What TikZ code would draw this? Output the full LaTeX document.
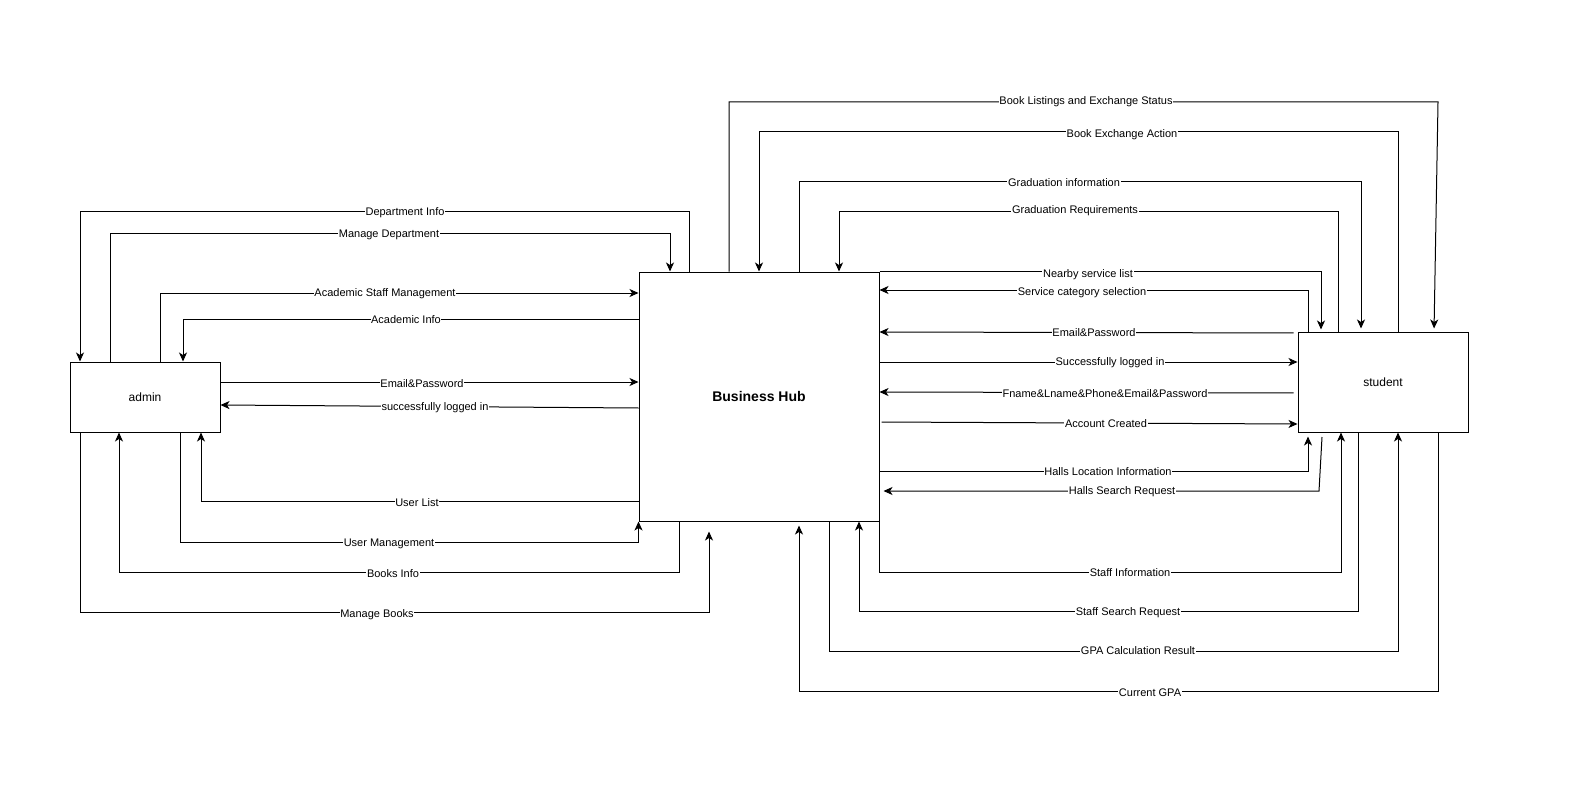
\documentclass[tikz,border=0pt]{standalone}
\usepackage{fontspec}
\setmainfont{Liberation Sans}
\usetikzlibrary{arrows.meta}
\begin{document}
\begin{tikzpicture}[x=1pt,y=-1pt,
  flow/.style={draw, line width=1pt, -{Stealth[length=9pt,width=8pt,inset=2.5pt]}},
  lbl/.style={fill=white, inner sep=0.6pt, font=\fontsize{11}{12}\selectfont},
  box/.style={draw, line width=1pt, inner sep=0pt, font=\fontsize{12}{14}\selectfont}]
\fill[white] (0,0) rectangle (1570,802);
\useasboundingbox (0,0) rectangle (1570,802);

% entities and the central process
\node[box, minimum width=150pt, minimum height=70pt] (admin) at (145,397) {admin};
\node[box, minimum width=240pt, minimum height=249pt,
      font=\bfseries\fontsize{14}{16}\selectfont] (hub) at (759,396.5) {Business Hub};
\node[box, minimum width=170pt, minimum height=100pt] (student) at (1383,382) {student};

% ---- admin <-> hub ----
\draw[flow] (689,0 |- hub.north) |- (80,212) -- (80,0 |- admin.north)
  node[lbl] at (405,213) {Department Info};
\draw[flow] (110,0 |- admin.north) |- (670,234) -- (670,0 |- hub.north)
  node[lbl] at (389,235) {Manage Department};
\draw[flow] (160,0 |- admin.north) |- (hub.west |- 0,293)
  node[lbl] at (385,294) {Academic Staff Management};
\draw[flow] (hub.west |- 0,319) -| (183,0 |- admin.north)
  node[lbl] at (406,320) {Academic Info};
\draw[flow] (admin.east |- 0,382) -- (hub.west |- 0,382)
  node[lbl] at (422,384) {Email\&Password};
\draw[flow] (hub.west |- 0,408) -- (admin.east |- 0,405)
  node[lbl] at (435,408) {successfully logged in};
\draw[flow] (hub.west |- 0,501) -| (201,0 |- admin.south)
  node[lbl] at (417,503) {User List};
\draw[flow] (180,0 |- admin.south) |- (hub.south west |- 0,542) -- (hub.south west)
  node[lbl] at (389,544) {User Management};
\draw[flow] (679,0 |- hub.south) |- (119,572) -- (119,0 |- admin.south)
  node[lbl] at (393,574) {Books Info};
\draw[flow, shorten >=10pt] (80,0 |- admin.south) |- (709,612) -- (709,0 |- hub.south)
  node[lbl] at (377,615) {Manage Books};

% ---- hub <-> student, above ----
\draw[flow, shorten >=3pt] (729,0 |- hub.north) |- (1438,102) -- (1434,0 |- student.north)
  node[lbl] at (1086,102) {Book Listings and Exchange Status};
\draw[flow] (1398,0 |- student.north) |- (759,132) -- (759,0 |- hub.north)
  node[lbl] at (1122,135) {Book Exchange Action};
\draw[flow, shorten >=3pt] (799,0 |- hub.north) |- (1361,182) -- (1361,0 |- student.north)
  node[lbl] at (1064,183) {Graduation information};
\draw[flow] (1338,0 |- student.north) |- (839,212) -- (839,0 |- hub.north)
  node[lbl] at (1075,211) {Graduation Requirements};
\draw[flow, shorten >=2pt] (hub.north east) -| (1321,0 |- student.north)
  node[lbl] at (1088,275) {Nearby service list};
\draw[flow] (1308,0 |- student.north) |- (hub.east |- 0,290)
  node[lbl] at (1082,293) {Service category selection};

% ---- hub <-> student, side ----
\draw[flow, shorten <=4pt] (student.west |- 0,333) -- (hub.east |- 0,332)
  node[lbl] at (1094,333) {Email\&Password};
\draw[flow] (hub.east |- 0,362) -- (student.west |- 0,362)
  node[lbl] at (1110,363) {Successfully logged in};
\draw[flow, shorten <=4pt] (student.west |- 0,393) -- (hub.east |- 0,392)
  node[lbl] at (1105,394) {Fname\&Lname\&Phone\&Email\&Password};
\draw[flow, shorten <=2pt] (hub.east |- 0,422) -- (student.west |- 0,424)
  node[lbl] at (1106,424) {Account Created};
\draw[flow, shorten >=4pt] (hub.east |- 0,471) -| (1308,0 |- student.south)
  node[lbl] at (1108,472) {Halls Location Information};
\draw[flow, shorten >=4pt] (1322,437) -- (1319,491) -- (hub.east |- 0,491)
  node[lbl] at (1122,492) {Halls Search Request};

% ---- hub <-> student, below ----
\draw[flow] (hub.south east) |- (1341,572) -- (1341,0 |- student.south)
  node[lbl] at (1130,573) {Staff Information};
\draw[flow] (1358,0 |- student.south) |- (859,611) -- (859,0 |- hub.south)
  node[lbl] at (1128,613) {Staff Search Request};
\draw[flow] (829,0 |- hub.south) |- (1398,651) -- (1398,0 |- student.south)
  node[lbl] at (1138,651) {GPA Calculation Result};
\draw[flow, shorten >=4pt] (1438,0 |- student.south) |- (799,691) -- (799,0 |- hub.south)
  node[lbl] at (1150,693) {Current GPA};
\end{tikzpicture}
\end{document}
